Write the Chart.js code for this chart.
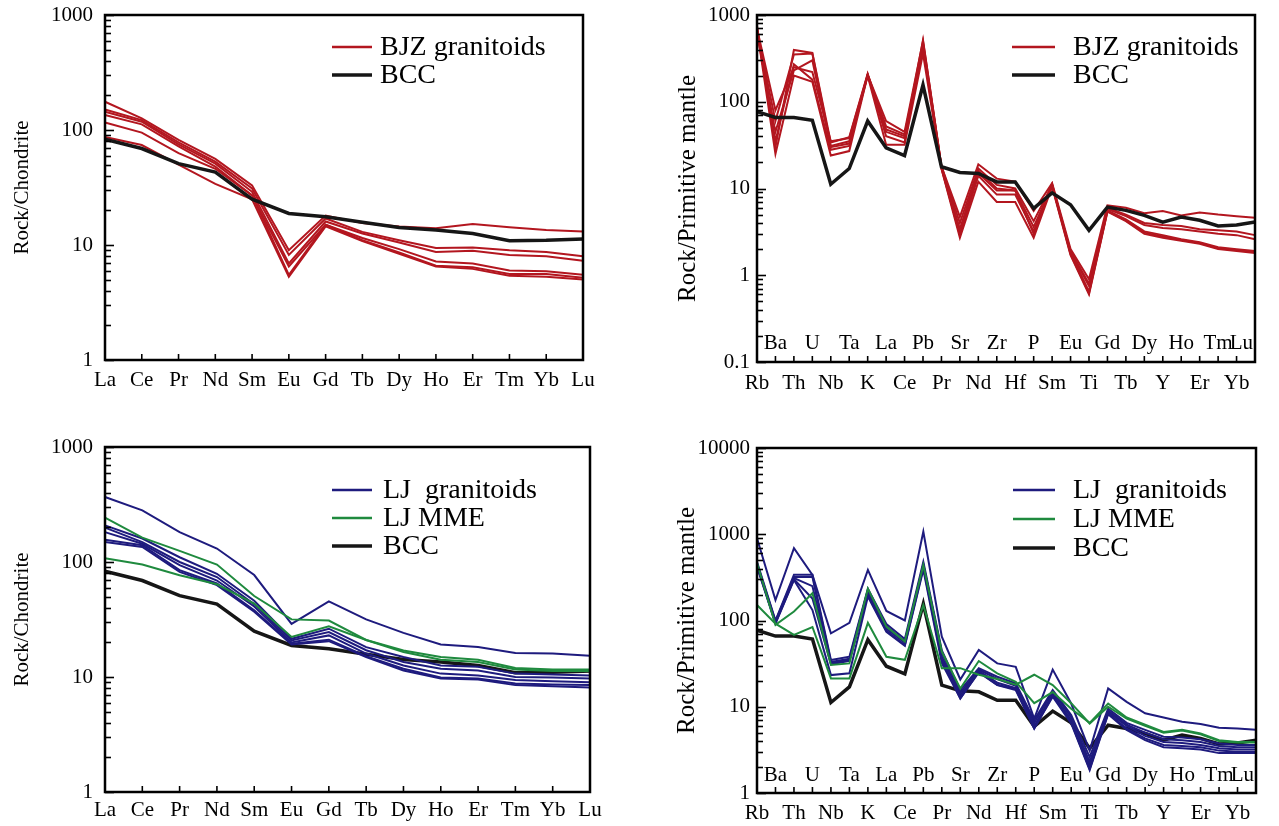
<!DOCTYPE html>
<html>
<head>
<meta charset="utf-8">
<script src="https://cdn.jsdelivr.net/npm/chart.js@4.4.1/dist/chart.umd.min.js"></script>
<style>
html, body { margin: 0; padding: 0; background: #fff; }
body { width: 1279px; height: 826px; position: relative; overflow: hidden; }
canvas { position: absolute; }
</style>
</head>
<body>
<canvas id="reeTop" width="640" height="413" style="left:0;top:0"></canvas>
<canvas id="spiderTop" width="639" height="413" style="left:640px;top:0"></canvas>
<canvas id="reeBottom" width="640" height="413" style="left:0;top:413px"></canvas>
<canvas id="spiderBottom" width="639" height="413" style="left:640px;top:413px"></canvas>
<script>
// element lists
const reeLabels = ['La','Ce','Pr','Nd','Sm','Eu','Gd','Tb','Dy','Ho','Er','Tm','Yb','Lu'];
const spiderLabels = ['Rb','Ba','Th','U','Nb','Ta','K','La','Ce','Pb','Pr','Sr','Nd','Zr','Hf','P','Sm','Eu','Ti','Gd','Tb','Dy','Y','Ho','Er','Tm','Yb','Lu'];

// bulk continental crust reference
const bccRee = [83, 69, 51, 43, 25, 18.8, 17.6, 15.8, 14.2, 13.5, 12.6, 10.9, 11.0, 11.3];
const bccSpider = [77, 66, 66, 61, 11.2, 17, 60, 29.5, 24, 156, 17.8, 15.3, 14.9, 11.9, 11.9, 5.9, 8.9, 6.5, 3.3, 6.1, 5.6, 4.9, 4.1, 4.7, 4.3, 3.7, 3.8, 4.1];

// BJZ granitoids, chondrite normalised
const bjzRee1 = [176, 126, 82, 56, 33, 9.0, 18, 15.5, 14.5, 14, 15.2, 14.3, 13.5, 13.1];
const bjzRee2 = [151, 122, 78, 53, 31, 8.2, 17, 13, 11, 9.4, 9.5, 9.0, 8.7, 8.0];
const bjzRee3 = [144, 118, 75, 51, 29, 6.9, 16, 12.6, 10.5, 8.7, 8.9, 8.2, 8.0, 7.3];
const bjzRee4 = [135, 112, 72, 48, 27, 6.5, 15, 11.5, 9.2, 7.2, 6.9, 6.0, 5.9, 5.5];
const bjzRee5 = [116, 95, 63, 46, 27, 5.5, 15, 11, 8.6, 6.6, 6.4, 5.6, 5.6, 5.2];
const bjzRee6 = [87, 74, 50, 34, 25, 5.3, 14.5, 10.8, 8.4, 6.5, 6.2, 5.4, 5.3, 5.0];

// BJZ granitoids, primitive mantle normalised
const bjzSp1 = [700, 80, 250, 220, 35, 38, 205, 60, 45, 500, 18, 4.7, 19, 13, 12, 5.5, 11.5, 2.0, 0.9, 6.4, 6.0, 5.2, 5.5, 4.9, 5.3, 5.0, 4.8, 4.6];
const bjzSp2 = [650, 60, 350, 360, 31, 35, 205, 52, 42, 450, 18, 4.0, 17, 11, 10, 4.2, 11, 1.9, 0.8, 6.0, 5.0, 4.0, 3.8, 3.7, 3.4, 3.3, 3.2, 2.9];
const bjzSp3 = [620, 45, 230, 300, 30, 33, 200, 48, 40, 420, 17.5, 3.4, 16, 10, 9.5, 3.6, 10.8, 1.85, 0.75, 5.8, 4.8, 3.8, 3.5, 3.4, 3.2, 3.0, 2.9, 2.6];
const bjzSp4 = [750, 30, 395, 365, 34, 39, 210, 45, 38, 515, 18, 2.9, 14, 8.5, 8.5, 3.2, 11.2, 1.8, 0.65, 5.6, 4.4, 3.2, 2.9, 2.6, 2.4, 2.1, 2.0, 1.9];
const bjzSp5 = [680, 25, 200, 170, 24, 27, 200, 32, 32, 360, 17, 2.7, 12, 7, 7, 2.7, 10.5, 1.7, 0.6, 5.4, 4.2, 3.0, 2.7, 2.5, 2.3, 2.0, 1.9, 1.8];
const bjzSp6 = [700, 35, 270, 180, 28, 31, 205, 40, 34, 470, 17, 3.0, 15, 9.5, 9.5, 3.0, 10.8, 1.75, 0.62, 5.5, 4.3, 3.1, 2.8, 2.55, 2.35, 2.05, 1.95, 1.85];

// LJ granitoids, chondrite normalised
const ljRee1 = [367, 281, 182, 131, 77, 29, 45.5, 31.7, 24.2, 19.2, 18.2, 16.2, 16.0, 15.3];
const ljRee2 = [208, 160, 110, 79, 46, 21.5, 26.3, 18.2, 14.9, 12.6, 12.3, 10.7, 10.5, 10.3];
const ljRee3 = [199, 149, 100, 74, 43, 20.8, 24.6, 17.1, 13.5, 11.8, 11.4, 10.0, 9.9, 9.7];
const ljRee4 = [182, 144, 94, 69, 41, 20.0, 23.0, 16.0, 12.6, 10.7, 10.3, 9.4, 9.2, 9.0];
const ljRee5 = [156, 140, 85, 65, 38, 19.5, 21.1, 15.2, 11.8, 9.9, 9.7, 8.8, 8.6, 8.5];
const ljRee6 = [149, 135, 82, 63, 37, 19.2, 20.5, 14.9, 11.4, 9.7, 9.5, 8.5, 8.3, 8.1];

// LJ MME, chondrite normalised
const mmeRee1 = [243, 163, 125, 95, 50.6, 31.7, 31, 21, 17, 14.9, 14.1, 12, 11.6, 11.6];
const mmeRee2 = [108, 95, 76.6, 64, 43.5, 22.3, 27.6, 21, 16.5, 14.1, 13.5, 11.6, 11.3, 11.3];

// LJ granitoids, primitive mantle normalised
const ljSp1 = [900, 173, 690, 338, 71, 94, 386, 129, 100, 1077, 65, 20.7, 45.5, 31.8, 29, 7.3, 27, 10.9, 3.1, 16.3, 11.4, 8.4, 7.5, 6.7, 6.3, 5.7, 5.6, 5.4];
const ljSp2 = [480, 100, 340, 340, 34.8, 38, 234, 91, 61, 480, 45, 15.6, 28, 22.3, 18.7, 7.0, 15.6, 8, 2.6, 9.5, 6.5, 5.4, 4.5, 4.4, 4.2, 3.75, 3.6, 3.6];
const ljSp3 = [460, 98, 320, 320, 33, 36, 225, 85, 57, 450, 42, 14.5, 27, 21, 17.5, 6.5, 15, 7.5, 2.3, 9.0, 6.2, 5.0, 4.2, 4.1, 3.9, 3.5, 3.4, 3.4];
const ljSp4 = [440, 96, 310, 250, 32, 35, 215, 80, 55, 430, 38, 13.5, 26, 19, 16.5, 6.0, 14, 7, 2.1, 8.7, 6.0, 4.6, 3.9, 3.8, 3.6, 3.3, 3.2, 3.2];
const ljSp5 = [430, 94, 300, 180, 31, 34, 200, 76, 52, 410, 35, 12.5, 25.5, 18, 16, 5.6, 13.5, 6.6, 1.9, 8.4, 5.6, 4.3, 3.6, 3.5, 3.4, 3.1, 3.0, 3.0];
const ljSp6 = [420, 92, 295, 132, 23.3, 24.4, 190, 74, 51, 390, 32, 12.5, 25, 17.8, 15.6, 5.6, 13.1, 6.4, 1.84, 8.2, 5.4, 4.1, 3.4, 3.3, 3.2, 2.9, 2.9, 2.9];

// LJ MME, primitive mantle normalised
const mmeSp1 = [465, 89, 127, 207, 30.5, 31.8, 234, 85, 57, 441, 43.5, 16.3, 33.9, 24.4, 19.5, 11, 14.8, 9.5, 6.5, 10.9, 7.5, 6.2, 5.1, 5.4, 4.9, 4.1, 3.9, 3.9];
const mmeSp2 = [151, 92, 68, 84, 21.3, 21.3, 94, 38, 35, 151, 28, 28, 23.5, 21, 18, 23.5, 17.8, 11, 6.4, 10, 7.3, 6.0, 5.0, 5.3, 4.8, 4.0, 3.85, 3.85];

const RED = '#b3161f';
const BLUE = '#1e1b7e';
const GREEN = '#1f8a3e';
const BLACK = '#161616';
const FONT = '"Liberation Serif", "Times New Roman", serif';

Chart.defaults.font.family = FONT;
Chart.defaults.color = '#000';

function series(values, color, width) {
    return { data: values, borderColor: color, borderWidth: width, pointRadius: 0, tension: 0, fill: false };
}

function isDecade(v) {
    const l = Math.log10(v);
    return Math.abs(l - Math.round(l)) < 1e-6;
}

// frame, inward ticks, second label row and legend
const framePlugin = {
    id: 'frame',
    afterDraw(chart, args, opts) {
        const { ctx, chartArea: a, scales: { x, y } } = chart;
        ctx.save();
        ctx.strokeStyle = '#000';
        ctx.lineWidth = 1.6;
        y.ticks.forEach(t => {
            const v = t.value;
            const m = v / Math.pow(10, Math.floor(Math.log10(v) + 1e-9));
            if (Math.abs(m - Math.round(m)) > 1e-6) return; // skip the 1.5 steps
            const py = Math.round(y.getPixelForValue(v)) + 0.5;
            const len = isDecade(v) ? 9 : 6;
            ctx.beginPath();
            ctx.moveTo(a.left, py);
            ctx.lineTo(a.left + len, py);
            ctx.stroke();
        });
        x.ticks.forEach((t, i) => {
            const px = x.getPixelForTick(i);
            ctx.beginPath();
            ctx.moveTo(px, a.bottom);
            ctx.lineTo(px, a.bottom - 6);
            ctx.stroke();
        });
        ctx.lineWidth = 2.5;
        ctx.strokeRect(a.left, a.top, a.right - a.left, a.bottom - a.top);

        ctx.fillStyle = '#000';
        if (opts.upperRow) {
            ctx.font = '21px ' + FONT;
            ctx.textAlign = 'center';
            ctx.textBaseline = 'middle';
            chart.data.labels.forEach((lab, i) => {
                if (i % 2 === 0) return;
                const w = ctx.measureText(lab).width;
                const px = Math.min(x.getPixelForValue(i), a.right - w / 2 - 2);
                ctx.fillText(lab, px, a.bottom - opts.upperRow);
            });
        }

        const lg = opts.legend;
        ctx.font = '28px ' + FONT;
        ctx.textAlign = 'left';
        ctx.textBaseline = 'middle';
        lg.items.forEach((it, k) => {
            const yy = a.top + lg.dy + k * lg.gap;
            ctx.strokeStyle = it.color;
            ctx.lineWidth = it.width;
            ctx.beginPath();
            ctx.moveTo(a.left + lg.x0, yy);
            ctx.lineTo(a.left + lg.x1, yy);
            ctx.stroke();
            ctx.fillText(it.label, a.left + lg.tx, yy + 1);
        });
        ctx.restore();
    }
};

function makePanel(id, p) {
    return new Chart(document.getElementById(id), {
        type: 'line',
        data: { labels: p.labels, datasets: p.datasets },
        options: {
            responsive: false,
            animation: false,
            layout: { padding: { top: p.top, right: p.right, left: 0, bottom: 0 } },
            plugins: {
                legend: { display: false },
                tooltip: { enabled: false },
                frame: { legend: p.legend, upperRow: p.upperRow }
            },
            scales: {
                x: {
                    grid: { display: false, drawTicks: false },
                    border: { display: false },
                    ticks: {
                        autoSkip: false, maxRotation: 0, padding: p.xPad,
                        font: { size: 21 },
                        callback: (v, i) => (p.upperRow && i % 2) ? '' : p.labels[i]
                    },
                    afterFit: s => { s.height = p.xH; }
                },
                y: {
                    type: 'logarithmic',
                    min: p.min, max: p.max,
                    grid: { display: false, drawTicks: false },
                    border: { display: false },
                    ticks: {
                        autoSkip: false, padding: p.yPad,
                        font: { size: 21 },
                        callback: v => isDecade(v) ? String(v) : ''
                    },
                    title: {
                        display: true, text: p.title,
                        font: { size: p.titleSize },
                        padding: { top: p.titlePad, bottom: 0 }
                    },
                    afterFit: s => { s.width = p.yW; s.paddingTop = 0; s.paddingBottom = 0; }
                }
            }
        },
        plugins: [framePlugin]
    });
}

makePanel('reeTop', {
    labels: reeLabels, min: 1, max: 1000,
    title: 'Rock/Chondrite', titleSize: 21, titlePad: 10,
    top: 15, right: 57, yW: 105, xH: 53, xPad: 8, yPad: 12,
    datasets: [
        series(bccRee, BLACK, 3.5),
        series(bjzRee1, RED, 2), series(bjzRee2, RED, 2), series(bjzRee3, RED, 2),
        series(bjzRee4, RED, 2), series(bjzRee5, RED, 2), series(bjzRee6, RED, 2)
    ],
    legend: { x0: 227, x1: 267, tx: 275, dy: 32, gap: 28,
        items: [{ label: 'BJZ granitoids', color: RED, width: 2.5 }, { label: 'BCC', color: BLACK, width: 3.5 }] }
});

makePanel('spiderTop', {
    labels: spiderLabels, min: 0.1, max: 1000, upperRow: 19,
    title: 'Rock/Primitive mantle', titleSize: 25, titlePad: 33,
    top: 15, right: 24, yW: 117, xH: 51, xPad: 9, yPad: 7,
    datasets: [
        series(bccSpider, BLACK, 3.5),
        series(bjzSp1, RED, 2), series(bjzSp2, RED, 2), series(bjzSp3, RED, 2),
        series(bjzSp4, RED, 2), series(bjzSp5, RED, 2), series(bjzSp6, RED, 2)
    ],
    legend: { x0: 255, x1: 298, tx: 316, dy: 32, gap: 28,
        items: [{ label: 'BJZ granitoids', color: RED, width: 2.5 }, { label: 'BCC', color: BLACK, width: 3.5 }] }
});

makePanel('reeBottom', {
    labels: reeLabels, min: 1, max: 1000,
    title: 'Rock/Chondrite', titleSize: 21, titlePad: 10,
    top: 34, right: 50, yW: 105, xH: 34, xPad: 6, yPad: 12,
    datasets: [
        series(mmeRee1, GREEN, 2), series(mmeRee2, GREEN, 2),
        series(ljRee1, BLUE, 2), series(ljRee2, BLUE, 2), series(ljRee3, BLUE, 2),
        series(ljRee4, BLUE, 2), series(ljRee5, BLUE, 2), series(ljRee6, BLUE, 2),
        series(bccRee, BLACK, 3.5)
    ],
    legend: { x0: 227, x1: 267, tx: 278, dy: 43, gap: 28,
        items: [{ label: 'LJ  granitoids', color: BLUE, width: 2.5 }, { label: 'LJ MME', color: GREEN, width: 2.5 }, { label: 'BCC', color: BLACK, width: 3.5 }] }
});

makePanel('spiderBottom', {
    labels: spiderLabels, min: 1, max: 10000, upperRow: 18,
    title: 'Rock/Primitive mantle', titleSize: 25, titlePad: 32,
    top: 35, right: 23, yW: 117, xH: 33, xPad: 8, yPad: 7,
    datasets: [
        series(mmeSp1, GREEN, 2), series(mmeSp2, GREEN, 2),
        series(ljSp1, BLUE, 2), series(ljSp2, BLUE, 2), series(ljSp3, BLUE, 2),
        series(ljSp4, BLUE, 2), series(ljSp5, BLUE, 2), series(ljSp6, BLUE, 2),
        series(bccSpider, BLACK, 3.5)
    ],
    legend: { x0: 256, x1: 298, tx: 316, dy: 42, gap: 29,
        items: [{ label: 'LJ  granitoids', color: BLUE, width: 2.5 }, { label: 'LJ MME', color: GREEN, width: 2.5 }, { label: 'BCC', color: BLACK, width: 3.5 }] }
});
</script>
</body>
</html>
